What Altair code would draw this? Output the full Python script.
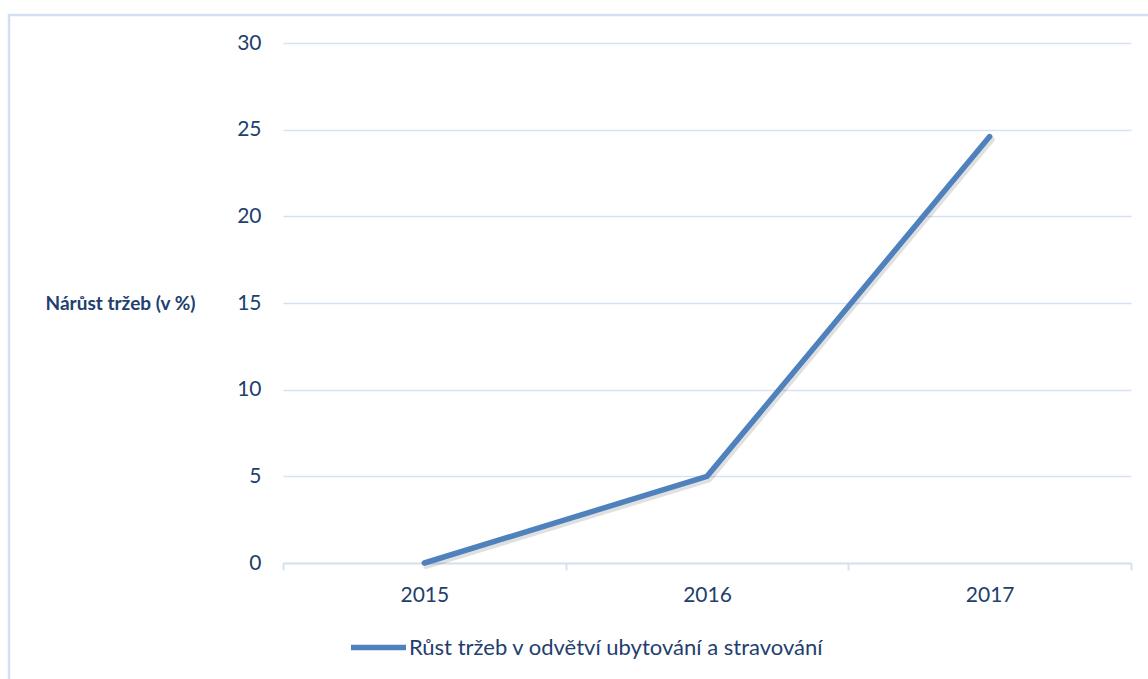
import altair as alt
import pandas as pd

years = ["2015", "2016", "2017"]
growth = [0.0, 5.0, 24.6]
series_name = "Růst tržeb v odvětví ubytování a stravování"
y_title = "Nárůst tržeb (v %)"

df = pd.DataFrame({"year": years, "growth": growth, "series": [series_name] * len(years)})

TEXT = "#22406E"
GRID = "#D6E2F2"
LINE = "#4F81BD"
FONT = "Lato"

x_enc = alt.X(
    "year:N",
    bandPosition=0.5,
    scale=alt.Scale(type="band", paddingInner=0, paddingOuter=0),
    axis=alt.Axis(
        title=None,
        labelAngle=0,
        grid=False,
        domain=True,
        domainColor=GRID,
        domainWidth=2,
        ticks=True,
        tickBand="extent",
        tickColor=GRID,
        tickWidth=2,
        tickSize=7,
        labelFontSize=21,
        labelColor=TEXT,
        labelFont=FONT,
        labelBaseline="middle",
        labelPadding=25,
    ),
)
y_enc = alt.Y(
    "growth:Q",
    scale=alt.Scale(domain=[0, 30], nice=False, zero=True),
    axis=alt.Axis(
        values=[0, 5, 10, 15, 20, 25, 30],
        title=y_title,
        titleAngle=0,
        titleAlign="right",
        titleBaseline="middle",
        titleX=-88,
        titleY=260,
        titleFontSize=19,
        titleFontWeight="bold",
        titleColor=TEXT,
        titleFont=FONT,
        domain=False,
        ticks=False,
        grid=True,
        gridColor=GRID,
        gridWidth=1.5,
        labelFontSize=21,
        labelColor=TEXT,
        labelFont=FONT,
        labelPadding=22,
    ),
)

border = alt.Chart(alt.Data(values=[{}])).mark_rect(
    fill=None, stroke="#D3E0F1", strokeWidth=2.5
).encode(
    x=alt.value(-274), x2=alt.value(900), y=alt.value(-28), y2=alt.value(700)
)

shadow = alt.Chart(df).mark_line(
    color="#000000", opacity=0.12, strokeWidth=6, strokeCap="round", xOffset=2, yOffset=3
).encode(x=x_enc, y=y_enc)

line = alt.Chart(df).mark_line(strokeWidth=5.5, strokeCap="round").encode(
    x=x_enc,
    y=y_enc,
    color=alt.Color(
        "series:N",
        scale=alt.Scale(range=[LINE]),
        legend=alt.Legend(
            title=None,
            orient="none",
            legendX=65,
            legendY=574,
            symbolType="stroke",
            symbolSize=3025,
            symbolStrokeWidth=5.5,
            labelFontSize=22,
            labelColor=TEXT,
            labelFont=FONT,
            labelOffset=0,
            labelLimit=0,
            padding=0,
        ),
    ),
)

chart = (
    alt.layer(border, shadow, line)
    .properties(
        width=848,
        height=520,
        autosize=alt.AutoSizeParams(type="none"),
        padding={"left": 283, "top": 43, "right": 17, "bottom": 116},
    )
    .configure(background="white", view=alt.ViewConfig(stroke=None))
)

chart.save("out.html", embed_options={"renderer": "svg", "actions": False})
